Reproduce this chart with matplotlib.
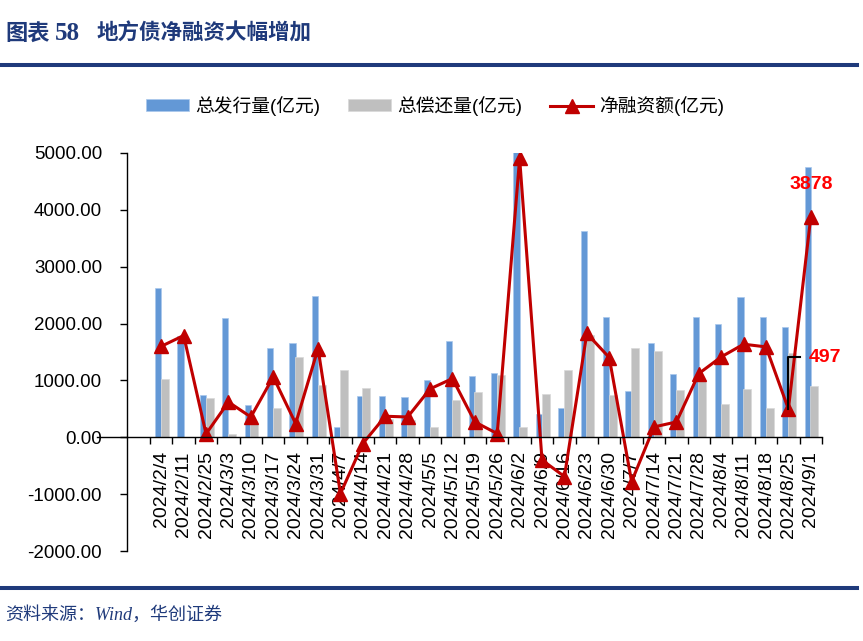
import numpy as np
import matplotlib
matplotlib.use("Agg")
from matplotlib import pyplot as plt
from matplotlib.lines import Line2D
from matplotlib import transforms

plt.rcParams['font.family'] = ['Liberation Sans', 'Noto Sans CJK SC', 'DejaVu Sans']
plt.rcParams['axes.unicode_minus'] = False

dates = ['2024/2/4', '2024/2/11', '2024/2/25', '2024/3/3', '2024/3/10', '2024/3/17',
         '2024/3/24', '2024/3/31', '2024/4/7', '2024/4/14', '2024/4/21', '2024/4/28',
         '2024/5/5', '2024/5/12', '2024/5/19', '2024/5/26', '2024/6/2', '2024/6/9',
         '2024/6/16', '2024/6/23', '2024/6/30', '2024/7/7', '2024/7/14', '2024/7/21',
         '2024/7/28', '2024/8/4', '2024/8/11', '2024/8/18', '2024/8/25', '2024/9/1']

# 总发行量(亿元)
issue = [2630, 1784, 751, 2100, 575, 1573, 1655, 2477, 182, 728, 728, 710, 1004, 1690,
         1080, 1139, 5010, 417, 516, 3632, 2118, 810, 1667, 1121, 2118, 2001, 2470,
         2118, 1942, 4759]
# 总偿还量(亿元)
repay = [1033, 0, 687, 58, 241, 511, 1408, 915, 1180, 863, 330, 300, 182, 651, 804,
         1092, 182, 769, 1192, 1796, 739, 1562, 1509, 840, 1004, 581, 857, 523, 1474, 898]
# 净融资额(亿元)
net = [1600, 1790, 60, 620, 357, 1062, 241, 1561, -990, -110, 370, 357, 851, 1033, 270,
       65, 4907, -400, -690, 1826, 1403, -780, 182, 270, 1121, 1414, 1637, 1590, 497, 3878]

navy = '#1F3A7B'
W, H = 863, 641

fig = plt.figure(figsize=(W / 100, H / 100), dpi=100)
ax = fig.add_axes([127 / W, 1 - 551 / H, 695 / W, 398 / H])

# spine position first, it resets the tick settings
for s in ['top', 'right']:
    ax.spines[s].set_visible(False)
ax.spines['bottom'].set_position(('data', 0))
ax.spines['bottom'].set_zorder(4)
for s in ['left', 'bottom']:
    ax.spines[s].set_linewidth(1.0)

x = np.arange(len(dates))
b1 = ax.bar(x - 0.14, issue, width=0.28, color='#6398D6', edgecolor='#A9C8EC', linewidth=0.5,
            label='总发行量(亿元)', zorder=2)
b2 = ax.bar(x + 0.16, repay, width=0.36, color='#BFBFBF', edgecolor='#D9D9D9', linewidth=0.5,
            label='总偿还量(亿元)', zorder=2)
l1, = ax.plot(x, net, color='#C00000', lw=2.2, marker='^', markersize=10,
              label='净融资额(亿元)', zorder=3)

ax.set_xlim(-1.53, 29.5)
ax.set_ylim(-2000, 5000)
ax.set_yticks(np.arange(-2000, 5001, 1000))
ax.set_yticklabels(['%.2f' % v for v in np.arange(-2000, 5001, 1000)], fontsize=13.5)
ax.set_xticks(x)
ax.set_xticklabels(dates, rotation=90, fontsize=14)
ax.set_xticks(np.arange(-0.5, 30, 1), minor=True)
ax.tick_params(axis='x', which='major', length=0, pad=10)
ax.tick_params(axis='x', which='minor', length=5, width=1, direction='out')
ax.tick_params(axis='y', length=5, width=1, direction='out', pad=13)

# zero line runs a bit left of the y axis
tr = transforms.blended_transform_factory(ax.transAxes, ax.transData)
ax.plot([-0.043, 0], [0, 0], color='black', lw=1.0, transform=tr, clip_on=False)

# annotations
ax.plot([28, 28, 28.5], [net[28], 1410, 1410], color='black', lw=1.5, zorder=4)
ax.text(28.9, 1410, '497', color='#FF0000', fontsize=14, fontweight='bold',
        ha='left', va='center')
ax.text(29.0, 4440, '3878', color='#FF0000', fontsize=14, fontweight='bold',
        ha='center', va='center')

leg = ax.legend([b1, b2, l1], ['总发行量(亿元)', '总偿还量(亿元)', '净融资额(亿元)'],
                loc='center', bbox_to_anchor=(435 / W, 1 - 106 / H),
                bbox_transform=fig.transFigure, ncol=3, frameon=False, fontsize=13.5,
                handlelength=2.3, handleheight=0.6, handletextpad=0.3, columnspacing=1.5)

# header / footer
fig.text(5 / W, 1 - 33 / H, '图表', fontsize=16, fontweight='bold', color=navy,
         family=['Noto Sans CJK SC'], va='center')
fig.text(55 / W, 1 - 33 / H, '58', fontsize=18, fontweight='bold', color=navy,
         family=['Liberation Serif'], va='center')
fig.text(97 / W, 1 - 33 / H, '地方债净融资大幅增加', fontsize=15.5, fontweight='bold',
         color=navy, family=['Noto Sans CJK SC'], va='center')
fig.add_artist(Line2D([2 / W, 857 / W], [1 - 64.7 / H] * 2, color=navy, lw=2.9))
fig.add_artist(Line2D([2 / W, 857 / W], [1 - 588 / H] * 2, color=navy, lw=2.9))
fig.text(5 / W, 1 - 615 / H, '资料来源：Wind，华创证券', fontsize=13, style='italic',
         color=navy, family=['Liberation Serif', 'Noto Sans CJK SC'], va='center')

fig.savefig('out.png', dpi=100)
